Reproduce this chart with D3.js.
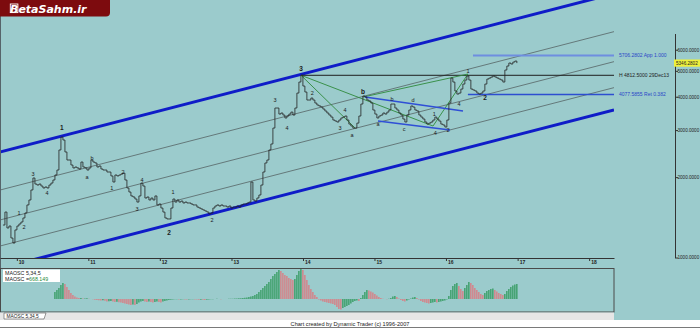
<!DOCTYPE html>
<html>
<head>
<meta charset="utf-8">
<script src="https://cdn.jsdelivr.net/npm/d3@7"></script>
<style>
  body { margin: 0; background: #9bcbcc; }
  svg { display: block; font-family: "Liberation Sans", Arial, sans-serif; }
</style>
</head>
<body>
<svg id="chart" width="700" height="328"></svg>
<script>
// closes, evenly spaced from priceStart to priceEnd
const priceStart = '2009-10-22'
const priceEnd = '2016-12-28'
const priceValues = [
  1323, 1480, 1290, 1312, 1183, 1133, 1268, 1312, 1335, 1358,
  1406, 1468, 1573, 1642, 1790, 1985, 1884, 1868, 1884, 1852,
  1821, 1837, 1821, 1868, 1900, 1951, 2037, 2126, 2527, 2826,
  2754, 2484, 2318, 2318, 2220, 2164, 2182, 2164, 2145, 2278,
  2182, 2164, 2126, 2164, 2318, 2278, 2259, 2182, 2201, 2145,
  2126, 2126, 2090, 2090, 2020, 1917, 2037, 2020, 2037, 2054,
  2071, 1951, 1821, 1759, 1700, 1685, 1656, 1613, 1700, 1900,
  1852, 1670, 1685, 1642, 1670, 1642, 1700, 1573, 1586, 1532,
  1480, 1406, 1394, 1394, 1532, 1656, 1613, 1642, 1613, 1627,
  1600, 1613, 1600, 1600, 1586, 1573, 1573, 1545, 1532, 1519,
  1506, 1493, 1480, 1455, 1468, 1532, 1559, 1573, 1559, 1573,
  1559, 1559, 1545, 1559, 1532, 1545, 1545, 1559, 1545, 1573,
  1586, 1586, 1600, 1613, 1917, 1642, 1627, 1670, 1714, 1868,
  2090, 2259, 2318, 2527, 2661, 3053, 3629, 3629, 3445, 3476,
  3416, 3330, 3387, 3445, 3504, 3416, 3629, 4129, 4540, 4812.5,
  4387, 4166, 3888, 3888, 3955, 3888, 3788, 3724, 3693, 3659,
  3597, 3536, 3476, 3416, 3357, 3272, 3244, 3216, 3272, 3330,
  3357, 3387, 3272, 3160, 3107, 3053, 3053, 3187, 3387, 3756,
  4025, 3991, 3888, 3855, 3788, 3567, 3445, 3330, 3387, 3416,
  3476, 3445, 3504, 3567, 3756, 3756, 3629, 3567, 3476, 3416,
  3301, 3216, 3416, 3567, 3693, 3659, 3567, 3536, 3416, 3357,
  3301, 3216, 3160, 3187, 3216, 3272, 3357, 3301, 3244, 3160,
  3134, 3080, 3272, 3788, 4698, 4540, 4202, 4093, 4129, 4274,
  4462, 4619, 4782, 4619, 4274, 4238, 4202, 4129, 4093, 4129,
  4202, 4462, 4658, 4698, 4740, 4782, 4740, 4698, 4658, 4619,
  4540, 5035, 5212, 5349, 5303, 5393, 5441, 5346.2802
]

// MAOSC 5,34,5 histogram, aligned to the last closes
const maoscValues = [
  312, 400, 490, 623, 712, 668, 534, 400, 267, 178,
  111, 67, 45, 45, 22, 22, 36, 13, 0, -13,
  -36, -45, -53, -67, -53, -80, -111, -98, -89, -111,
  -134, -125, -142, -156, -178, -200, -223, -245, -267, -245,
  -267, -223, -156, -111, -89, -111, -134, -111, -134, -156,
  -134, -111, -134, -156, -111, -89, -67, -45, -36, -22,
  -13, -13, -22, -18, -13, -22, -27, -18, -13, -13,
  -22, -27, -36, -31, -36, -40, -31, -22, -13, -9,
  0, 9, 0, -9, -4, 0, 4, 9, 13, 13,
  18, 27, 31, 36, 45, 53, 67, 89, 111, 134,
  178, 223, 312, 400, 490, 579, 668, 757, 890, 1024,
  1113, 1202, 1291, 1246, 1157, 1068, 1024, 935, 890, 846,
  890, 1068, 1246, 1335, 1291, 1068, 846, 623, 445, 312,
  178, 89, -22, -67, -111, -134, -156, -178, -200, -223,
  -267, -356, -445, -467, -400, -356, -312, -267, -200, -134,
  -89, -67, -89, 45, 178, 312, 400, 378, 334, 289,
  223, 156, 89, 45, 13, 0, -9, 9, 45, 111,
  134, 89, 22, -45, -89, -111, -67, -22, 22, 67,
  89, 45, -22, -89, -134, -156, -178, -200, -178, -156,
  -134, -156, -134, -111, -89, -67, -22, 134, 400, 579,
  668, 712, 579, 445, 356, 490, 623, 757, 712, 623,
  490, 400, 312, 223, 178, 267, 356, 400, 445, 467,
  400, 334, 267, 223, 178, 223, 356, 445, 534, 601,
  645, 668.149
]

const yearTicks = ['2010-01-01', '2011-01-01', '2012-01-01', '2013-01-01', '2014-01-01',
  '2015-01-01', '2016-01-01', '2017-01-01', '2018-01-01']
const priceTicks = [1000, 2000, 3000, 4000, 5000, 6000]
const lastClose = 5346.2802

// channel lines: [date1, value1, date2, value2]
const thickChannels = [
  ['2009-10-07', 2483, '2018-05-08', 9728],
  ['2009-10-07', 911, '2018-05-08', 3570]
]
const thinChannels = [
  ['2009-10-07', 1789, '2018-05-08', 7011],
  ['2009-10-07', 1382, '2018-05-08', 5413],
  ['2009-10-07', 1104, '2018-05-08', 4326]
]
const greenLines = [
  ['2013-12-22', 4812.5, '2014-09-24', 3054],
  ['2013-12-22', 4812.5, '2015-10-27', 3107],
  ['2014-11-03', 3989, '2016-04-22', 4864],
  ['2015-10-27', 3107, '2016-04-22', 4864]
]
const blueLines = [
  ['2014-11-13', 3989, '2016-03-28', 3536],
  ['2015-01-19', 3244, '2016-01-22', 3001]
]

const levelValues = [5706.2802, 4812.5, 4077.5855]
const levelStarts = ['2016-05-18', '2013-12-22', '2016-04-22']
const levelLabels = ['5706.2802 App 1.000', 'H 4812.5000 29Dec13', '4077.5855 Ret 0.382']

// wave labels: date, value, text, higher degree
const waveDates = ['2010-01-12', '2010-02-07', '2010-03-25', '2010-06-04', '2010-08-19', '2010-12-25',
  '2011-01-20', '2011-05-01', '2011-06-27', '2011-09-07', '2011-10-02', '2012-02-17', '2012-03-08',
  '2012-09-24', '2013-08-11', '2013-10-12', '2013-12-22', '2014-02-17', '2014-07-09', '2014-08-04',
  '2014-09-08', '2014-11-04', '2015-01-19', '2015-04-01', '2015-06-01', '2015-07-17', '2015-11-02',
  '2015-11-07', '2016-01-12', '2016-03-08', '2016-04-23', '2016-07-19']
const waveValues = [1468, 1301, 2054, 1744, 3054, 2002, 2358, 1820, 2090, 1519, 1950, 1235, 1759,
  1382, 3888, 3054, 5078, 4129, 3054, 3567, 2875, 4166, 3161, 3921, 3028, 3888, 3446,
  2925, 3002, 3756, 4992, 3955]
const waveTexts = ['1', '2', '3', '4', '1', 'a', 'b', '1', '2', '3', '4', '2', '1', '2', '3', '4',
  '3', '2', '3', '4', 'a', 'b', 'a', 'b', 'c', 'd', '1', '4', '2', '4', '1', '2']
const waveMajor = [0, 0, 0, 0, 1, 0, 0, 0, 0, 0, 0, 1, 0, 0, 0, 0, 1, 0, 0, 0, 0, 1, 0, 0, 0, 0, 0, 0, 0, 0, 0, 1]

const parse = d3.timeParse('%Y-%m-%d')
const svg = d3.select('#chart')

const x = d3.scaleTime().domain([parse('2009-10-07'), parse('2018-05-08')]).range([0, 614])
const y = d3.scaleLog().domain([1000, 6900]).range([257.5, 33.5])
const yOsc = d3.scaleLinear().domain([0, 1335]).range([299, 269])

const t0 = parse(priceStart), t1 = parse(priceEnd)
const step = (t1 - t0) / (priceValues.length - 1)
const prices = priceValues.map((v, i) => ({ date: new Date(+t0 + i * step), value: v }))
const oscOffset = priceValues.length - maoscValues.length
const osc = maoscValues.map((v, i) => ({
  date: prices[i + oscOffset].date,
  value: v,
  up: i === 0 || v >= maoscValues[i - 1]
}))

const defs = svg.append('defs')
defs.append('clipPath').attr('id', 'main').append('rect').attr('x', 1).attr('y', 0).attr('width', 613).attr('height', 258)
defs.append('clipPath').attr('id', 'oscClip').append('rect').attr('x', 1).attr('y', 268.5).attr('width', 613).attr('height', 43)

svg.append('rect').attr('width', 700).attr('height', 328).attr('fill', '#9bcbcc')

const plot = svg.append('g').attr('clip-path', 'url(#main)')
const seg = d3.line().x(d => x(parse(d[0]))).y(d => y(d[1]))
const toPts = l => [[l[0], l[1]], [l[2], l[3]]]

plot.selectAll('.thin').data(thinChannels).join('path')
  .attr('d', l => seg(toPts(l))).attr('fill', 'none').attr('stroke', '#5d6f70').attr('stroke-width', 0.9)
plot.selectAll('.thick').data(thickChannels).join('path')
  .attr('d', l => seg(toPts(l))).attr('fill', 'none').attr('stroke', '#0f1cc8').attr('stroke-width', 3)

// fib levels
const levelColors = ['#6e8ee0', '#1e1e1e', '#2d4ed0']
const levelWidths = [2, 1, 1.3]
levelValues.forEach((v, i) => {
  plot.append('line')
    .attr('x1', x(parse(levelStarts[i]))).attr('x2', 614)
    .attr('y1', y(v)).attr('y2', y(v))
    .attr('stroke', levelColors[i]).attr('stroke-width', levelWidths[i])
  svg.append('text')
    .attr('x', 619).attr('y', y(v)).attr('dy', '0.35em')
    .attr('font-size', 5).attr('fill', i === 1 ? '#1e1e1e' : '#2a45c8')
    .text(levelLabels[i])
})

plot.selectAll('.green').data(greenLines).join('path')
  .attr('d', l => seg(toPts(l))).attr('fill', 'none').attr('stroke', '#2f8a3c').attr('stroke-width', 0.9)
plot.selectAll('.blue').data(blueLines).join('path')
  .attr('d', l => seg(toPts(l))).attr('fill', 'none').attr('stroke', '#2f4fd6').attr('stroke-width', 1.4)

const priceLine = d3.line().x(d => x(d.date)).y(d => y(d.value)).curve(d3.curveStepAfter)
plot.append('path').datum(prices)
  .attr('d', priceLine).attr('fill', 'none').attr('stroke', '#222').attr('stroke-width', 0.8)

plot.selectAll('.wave').data(waveTexts).join('text')
  .attr('x', (t, i) => x(parse(waveDates[i])))
  .attr('y', (t, i) => y(waveValues[i]))
  .attr('dy', '0.35em').attr('text-anchor', 'middle')
  .attr('font-size', (t, i) => waveMajor[i] ? 6.5 : 5.5)
  .attr('font-weight', (t, i) => waveMajor[i] ? 'bold' : 'normal')
  .attr('fill', '#1a1a1a')
  .text(t => t)

// left border
svg.append('line').attr('x1', 0.5).attr('x2', 0.5).attr('y1', 0).attr('y2', 312).attr('stroke', '#56646a')

// x axis
const xAxis = d3.axisBottom(x).tickValues(yearTicks.map(parse)).tickSize(3).tickSizeOuter(0)
  .tickFormat(d3.timeFormat('%y'))
const gx = svg.append('g').attr('transform', 'translate(0,258)').call(xAxis)
gx.select('.domain').attr('stroke', '#333')
gx.selectAll('.tick line').attr('stroke', '#333')
gx.selectAll('.tick text').attr('font-size', 5).attr('font-weight', 'bold').attr('fill', '#222')
  .attr('text-anchor', 'start').attr('x', 1.5).attr('y', 2).attr('dy', '0.71em')
gx.attr('font-family', null)

// price axis
const yAxis = d3.axisRight(y).tickValues(priceTicks).tickSize(3).tickSizeOuter(0)
  .tickFormat(d3.format('.4f'))
const gy = svg.append('g').attr('transform', 'translate(675,0)').call(yAxis).attr('font-family', null)
gy.select('.domain').attr('stroke', '#333')
gy.selectAll('.tick line').attr('stroke', '#333')
gy.selectAll('.tick text').attr('font-size', 4.6).attr('fill', '#222').attr('x', 2.5)

// last close tag
svg.append('rect').attr('x', 674).attr('y', y(lastClose) - 3.6).attr('width', 26).attr('height', 7.2).attr('fill', '#eef03c')
svg.append('text').attr('x', 676).attr('y', y(lastClose)).attr('dy', '0.35em')
  .attr('font-size', 4.6).attr('fill', '#222').text(d3.format('.4f')(lastClose))

// indicator panel
svg.append('rect').attr('x', 0.5).attr('y', 268.5).attr('width', 613.5).attr('height', 43.5)
  .attr('fill', '#9bcbcc').attr('stroke', '#4a4a4a').attr('stroke-width', 1)
svg.append('g').attr('clip-path', 'url(#oscClip)')
  .selectAll('line').data(osc).join('line')
  .attr('x1', d => x(d.date)).attr('x2', d => x(d.date))
  .attr('y1', yOsc(0)).attr('y2', d => yOsc(d.value))
  .attr('stroke', d => d.up ? '#2b9656' : '#e2737a').attr('stroke-width', 1.2)

svg.append('rect').attr('x', 3).attr('y', 269.5).attr('width', 57).attr('height', 12.5).attr('fill', '#fff')
svg.append('text').attr('x', 5).attr('y', 274.6).attr('font-size', 5.3).attr('fill', '#222').text('MAOSC 5,34,5')
const oscText = svg.append('text').attr('x', 5).attr('y', 280.6).attr('font-size', 5.3).attr('fill', '#222')
oscText.append('tspan').text('MAOSC =')
oscText.append('tspan').attr('fill', '#2a8a3a').text(d3.format('.3f')(maoscValues[maoscValues.length - 1]))

// bottom strips
svg.append('rect').attr('x', 0).attr('y', 312.5).attr('width', 614).attr('height', 7.5).attr('fill', '#e6e6e6')
svg.append('path').attr('d', 'M4,313 L4,319 L44,319 L46,313 Z').attr('fill', '#fff').attr('stroke', '#555').attr('stroke-width', 0.6)
svg.append('text').attr('x', 6.5).attr('y', 317.8).attr('font-size', 4.8).attr('fill', '#222').text('MAOSC 5,34,5')
svg.append('rect').attr('x', 0).attr('y', 320).attr('width', 700).attr('height', 7).attr('fill', '#fff')
svg.append('rect').attr('x', 0).attr('y', 327).attr('width', 700).attr('height', 1).attr('fill', '#7a7a7a')
svg.append('text').attr('x', 350).attr('y', 325.6).attr('text-anchor', 'middle')
  .attr('font-size', 5.6).attr('fill', '#222').text('Chart created by Dynamic Trader  (c) 1996-2007')

// logo
svg.append('path').attr('d', 'M0,0 H110 V12.5 Q110,16.5 106,16.5 H0 Z').attr('fill', '#7d0b0e')
svg.append('rect').attr('x', 10.3).attr('y', 4).attr('width', 7.6).attr('height', 8.6)
  .attr('fill', 'none').attr('stroke', '#fff').attr('stroke-width', 0.9)
svg.append('text').attr('x', 10).attr('y', 12.6).attr('font-size', 11).attr('font-weight', 'bold')
  .attr('font-style', 'italic').attr('fill', '#fff').attr('font-family', '"DejaVu Sans", sans-serif')
  .text('BetaSahm.ir')
</script>
</body>
</html>
